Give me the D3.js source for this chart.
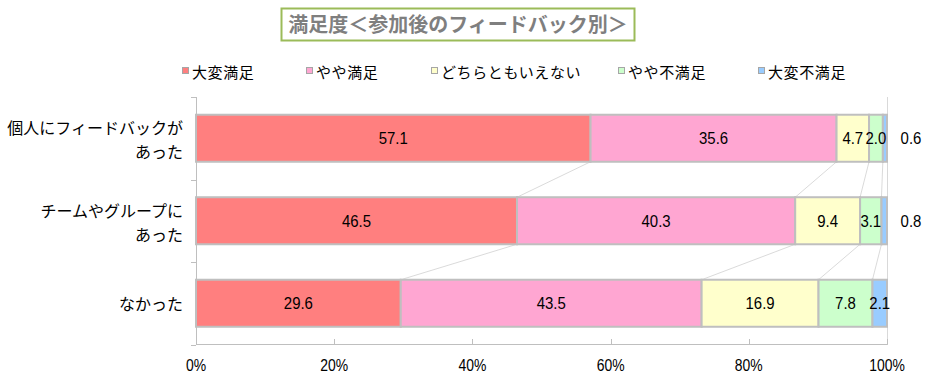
<!DOCTYPE html>
<html><head><meta charset="utf-8">
<script src="https://cdn.jsdelivr.net/npm/d3@7"></script>
<style>body{margin:0;background:#fff}</style>
</head><body>
<svg id="c" width="928" height="381"></svg>
<script>
const categories = [["個人にフィードバックが","あった"],["チームやグループに","あった"],["なかった"]];
const seriesNames = ["大変満足","やや満足","どちらともいえない","やや不満足","大変不満足"];
const colors = ["#FF7F7F","#FFA6D2","#FFFFCC","#CCFFCC","#99CCFF"];
const row1 = [57.1,35.6,4.7,2.0,0.6];
const row2 = [46.5,40.3,9.4,3.1,0.8];
const row3 = [29.6,43.5,16.9,7.8,2.1];
const rows = [row1,row2,row3];
const tickValues = [0,0.2,0.4,0.6,0.8,1.0];
const title = "満足度＜参加後のフィードバック別＞";

const svg = d3.select("#c");
const fontJP = "'Noto Sans CJK JP','Noto Sans',sans-serif";
const fontNum = "'Liberation Sans',Arial,sans-serif";
const x = d3.scaleLinear().domain([0,1]).range([196,887]);
const y = d3.scaleBand().domain(d3.range(3)).range([97,344.5]).paddingInner(0.43).paddingOuter(0.215);

// title
svg.append("rect").attr("x",281.5).attr("y",8.5).attr("width",353).attr("height",32)
  .attr("fill","#fff").attr("stroke","#9BBB59").attr("stroke-width",2);
svg.append("text").attr("x",458).attr("y",32).attr("text-anchor","middle")
  .attr("font-family",fontJP).attr("font-size",20).attr("font-weight","bold").attr("fill","#7F7F7F").text(title);

// legend
const legX = [182,306,431,618,758];
seriesNames.forEach((n,i)=>{
  svg.append("rect").attr("x",legX[i]+0.5).attr("y",67.5).attr("width",6).attr("height",6)
    .attr("fill",colors[i]).attr("stroke","#A6A6A6");
  svg.append("text").attr("x",legX[i]+10).attr("y",78).attr("font-family",fontJP).attr("font-size",15)
    .attr("letter-spacing",0.6).attr("fill","#000").text(n);
});

// stacked data (normalized)
const stacked = rows.map(r=>{
  const s = d3.sum(r); let c=0;
  return r.map((v,i)=>{const x0=c/s; c+=v; return {v,i,x0,x1:c/s};});
});

// series lines
for(let r=0;r<2;r++){
  for(let k=0;k<4;k++){
    svg.append("line")
      .attr("x1",x(stacked[r][k].x1)).attr("y1",y(r)+y.bandwidth())
      .attr("x2",x(stacked[r+1][k].x1)).attr("y2",y(r+1))
      .attr("stroke","#D0D0D0").attr("stroke-width",0.8);
  }
}

// axes frame
svg.append("line").attr("x1",887.5).attr("x2",887.5).attr("y1",97).attr("y2",345).attr("stroke","#D9D9D9");
svg.append("line").attr("x1",196).attr("x2",887.5).attr("y1",344.5).attr("y2",344.5).attr("stroke","#BFBFBF");
svg.append("line").attr("x1",196.5).attr("x2",196.5).attr("y1",97).attr("y2",345).attr("stroke","#BFBFBF");
[97,179.5,262,344.5].forEach(v=>{
  svg.append("line").attr("x1",191).attr("x2",196).attr("y1",Math.round(v)+0.5).attr("y2",Math.round(v)+0.5).attr("stroke","#BFBFBF");
});
tickValues.forEach(t=>{
  svg.append("line").attr("x1",Math.round(x(t))+0.5).attr("x2",Math.round(x(t))+0.5).attr("y1",339).attr("y2",344.5).attr("stroke","#BFBFBF");
  svg.append("text").attr("transform",`translate(${x(t)},371) scale(0.82,1)`).attr("text-anchor","middle")
    .attr("font-family",fontNum).attr("font-size",17).attr("fill","#000").text(d3.format(".0%")(t));
});

// bars
stacked.forEach((segs,r)=>{
  const g = svg.append("g");
  g.selectAll("rect").data(segs).join("rect")
    .attr("x",d=>x(d.x0)).attr("width",d=>x(d.x1)-x(d.x0))
    .attr("y",y(r)).attr("height",y.bandwidth())
    .attr("fill",d=>colors[d.i]).attr("stroke","#BFBFBF").attr("stroke-width",2);
  g.selectAll("text").data(segs).join("text")
    .attr("transform",d=>{
      const cx = d.v<1 ? x(d.x1)+24 : (x(d.x0)+x(d.x1))/2;
      return `translate(${cx},${y(r)+y.bandwidth()/2+6}) scale(0.88,1)`;
    })
    .attr("text-anchor","middle").attr("font-family",fontNum).attr("font-size",17).attr("fill","#000")
    .text(d=>d3.format(".1f")(d.v));
});

// category labels
const labY = [[128,152],[211,235],[304]];
categories.forEach((lines,r)=>{
  lines.forEach((t,j)=>{
    svg.append("text").attr("x",183).attr("y",labY[r][j]+6).attr("text-anchor","end")
      .attr("font-family",fontJP).attr("font-size",16).attr("fill","#000").text(t);
  });
});
</script>
</body></html>
